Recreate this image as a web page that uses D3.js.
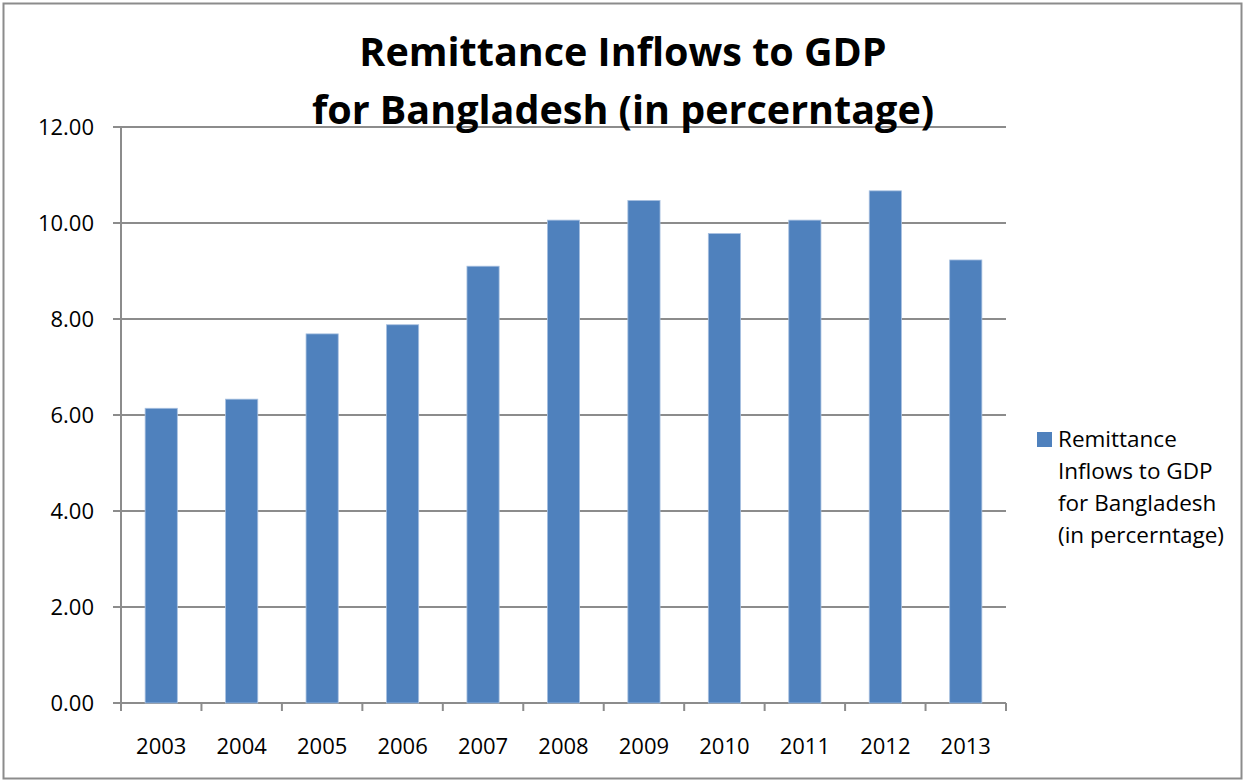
<!DOCTYPE html>
<html>
<head>
<meta charset="utf-8">
<script src="https://cdn.jsdelivr.net/npm/d3@7"></script>
<style>
	body { margin: 0; background: #fff; }
	text { font-family: "Open Sans", "Noto Sans", sans-serif; fill: #000; }
</style>
</head>
<body>
<div id="chart"></div>
<script>

//Data
var years = ["2003","2004","2005","2006","2007","2008","2009","2010","2011","2012","2013"];
var values = [6.14, 6.33, 7.69, 7.88, 9.10, 10.06, 10.47, 9.78, 10.06, 10.67, 9.23];
var yTicks = [0, 2, 4, 6, 8, 10, 12];
var titleLines = ["Remittance Inflows to GDP", "for Bangladesh (in percerntage)"];
var legendLines = ["Remittance", "Inflows to GDP", "for Bangladesh", "(in percerntage)"];

var width = 1245,
	height = 782;

var margin = { top: 127, right: 239, bottom: 79, left: 121 };
var plotW = width - margin.left - margin.right,
	plotH = height - margin.top - margin.bottom;

var svg = d3.select("#chart").append("svg")
	.attr("width", width)
	.attr("height", height);

//Outer frame
svg.append("rect")
	.attr("x", 3.5).attr("y", 3.5)
	.attr("width", width - 7).attr("height", height - 7)
	.style("fill", "none")
	.style("stroke", "#8c8c8c")
	.style("stroke-width", 2);

var g = svg.append("g")
	.attr("transform", "translate(" + margin.left + "," + margin.top + ")");

var x = d3.scaleBand()
	.domain(years)
	.range([0, plotW])
	.paddingInner(0.6)
	.paddingOuter(0.3);

var y = d3.scaleLinear()
	.domain([0, 12])
	.range([plotH, 0]);

//Gridlines
g.selectAll(".grid")
	.data(yTicks)
	.enter().append("line")
	.attr("x1", -8).attr("x2", plotW)
	.attr("y1", function(d) { return y(d); })
	.attr("y2", function(d) { return y(d); })
	.style("stroke", "#8c8c8c")
	.style("stroke-width", 2);

//Bars
g.selectAll(".bar")
	.data(values)
	.enter().append("rect")
	.attr("class", "bar")
	.attr("x", function(d, i) { return x(years[i]); })
	.attr("y", function(d) { return y(d); })
	.attr("width", x.bandwidth())
	.attr("height", function(d) { return plotH - y(d); })
	.style("fill", "#4f81bd")
	.style("stroke", "#a7c0e0")
	.style("stroke-width", 0.8);

//Y axis line
g.append("line")
	.attr("x1", 0).attr("x2", 0)
	.attr("y1", 0).attr("y2", plotH + 8)
	.style("stroke", "#8c8c8c")
	.style("stroke-width", 2);

//X axis tick marks between categories
var step = x.step();
g.selectAll(".xtick")
	.data(d3.range(years.length + 1))
	.enter().append("line")
	.attr("x1", function(d) { return d * step; })
	.attr("x2", function(d) { return d * step; })
	.attr("y1", plotH).attr("y2", plotH + 8)
	.style("stroke", "#8c8c8c")
	.style("stroke-width", 2);

//Y tick labels
g.selectAll(".ylabel")
	.data(yTicks)
	.enter().append("text")
	.attr("x", -27)
	.attr("y", function(d) { return y(d); })
	.attr("dy", "0.35em")
	.attr("text-anchor", "end")
	.style("font-size", "22px")
	.text(function(d) { return d3.format(".2f")(d); });

//X tick labels
g.selectAll(".xlabel")
	.data(years)
	.enter().append("text")
	.attr("x", function(d) { return x(d) + x.bandwidth() / 2; })
	.attr("y", plotH + 51)
	.attr("text-anchor", "middle")
	.style("font-size", "22px")
	.text(function(d) { return d; });

//Title
svg.selectAll(".title")
	.data(titleLines)
	.enter().append("text")
	.attr("x", 623)
	.attr("y", function(d, i) { return 66 + i * 58; })
	.attr("text-anchor", "middle")
	.style("font-size", "39.5px")
	.style("font-weight", "bold")
	.text(function(d) { return d; });

//Legend
svg.append("rect")
	.attr("x", 1037).attr("y", 432)
	.attr("width", 15).attr("height", 15)
	.style("fill", "#4f81bd");

svg.selectAll(".legend")
	.data(legendLines)
	.enter().append("text")
	.attr("x", 1058)
	.attr("y", function(d, i) { return 447 + i * 32; })
	.style("font-size", "22.5px")
	.text(function(d) { return d; });

</script>
</body>
</html>
